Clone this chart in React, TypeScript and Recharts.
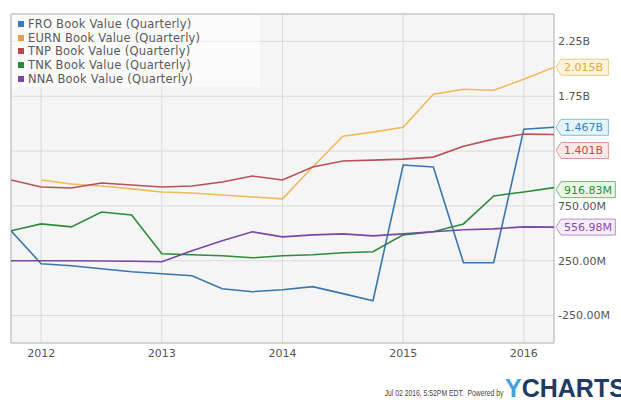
import { LineChart, Line, XAxis, YAxis, CartesianGrid, Legend, LabelList, ReferenceArea } from 'recharts';

const quarters = [2011.75, 2012, 2012.25, 2012.5, 2012.75, 2013, 2013.25, 2013.5, 2013.75, 2014, 2014.25, 2014.5, 2014.75, 2015, 2015.25, 2015.5, 2015.75, 2016, 2016.25];

// book value in billions
const fro = [0.523, 0.223, 0.205, 0.177, 0.15, 0.132, 0.114, -0.005, -0.032, -0.014, 0.014, -0.05, -0.114, 1.123, 1.105, 0.232, 0.232, 1.45, 1.467];
const eurn = [null, 0.986, 0.95, 0.932, 0.905, 0.877, 0.868, 0.85, 0.832, 0.814, 1.105, 1.386, 1.423, 1.468, 1.768, 1.814, 1.805, 1.905, 2.015];
const tnp = [0.986, 0.923, 0.914, 0.959, 0.941, 0.923, 0.932, 0.968, 1.023, 0.986, 1.105, 1.159, 1.168, 1.177, 1.195, 1.295, 1.359, 1.405, 1.401];
const tnk = [0.523, 0.586, 0.559, 0.695, 0.668, 0.314, 0.305, 0.295, 0.277, 0.295, 0.305, 0.323, 0.332, 0.486, 0.514, 0.586, 0.841, 0.877, 0.91683];
const nna = [0.25, 0.25, 0.25, 0.248, 0.245, 0.241, 0.341, 0.432, 0.514, 0.468, 0.486, 0.495, 0.477, 0.495, 0.514, 0.532, 0.541, 0.559, 0.55698];

const yearTicks = [2012, 2013, 2014, 2015, 2016];
const valueTicks = [-0.25, 0.25, 0.75, 1.25, 1.75, 2.25];
const hiddenTickLabels = [1.25];

const series = [
  { key: 'fro', name: 'FRO Book Value (Quarterly)', values: fro, color: '#3a76ad', swatch: '#3b78c4', tagFill: '#e6f3fb', tagText: '#2f86c0', tagBorder: '#7fbde0', shift: 0 },
  { key: 'eurn', name: 'EURN Book Value (Quarterly)', values: eurn, color: '#f0b960', swatch: '#e0a050', tagFill: '#fff3d9', tagText: '#e6a83a', tagBorder: '#f0c97f', shift: 0 },
  { key: 'tnp', name: 'TNP Book Value (Quarterly)', values: tnp, color: '#b8525a', swatch: '#c0444c', tagFill: '#fbe8e8', tagText: '#c34a4a', tagBorder: '#dc9a9a', shift: 16 },
  { key: 'tnk', name: 'TNK Book Value (Quarterly)', values: tnk, color: '#2f8a3c', swatch: '#2a8a35', tagFill: '#eaf7e8', tagText: '#2d8f38', tagBorder: '#6cbf6c', shift: 2 },
  { key: 'nna', name: 'NNA Book Value (Quarterly)', values: nna, color: '#7a48a2', swatch: '#7b4aa8', tagFill: '#f5ecf8', tagText: '#8a4cae', tagBorder: '#b98ed0', shift: 0 },
];

const data = quarters.map((q, i) => {
  const row: Record<string, number | null> = { q };
  series.forEach((s) => { row[s.key] = s.values[i]; });
  return row;
});

const font = '"DejaVu Sans", Verdana, sans-serif';

function fmtTick(v: number) {
  if (hiddenTickLabels.includes(v)) return '';
  if (Math.abs(v) >= 1) return `${v.toFixed(2)}B`;
  return `${(v * 1000).toFixed(2)}M`;
}

function fmtLast(v: number) {
  if (Math.abs(v) >= 1) return `${v.toFixed(3)}B`;
  return `${(v * 1000).toFixed(2)}M`;
}

function makeTag(s: typeof series[number]) {
  return (props: any) => {
    const { x, y, value, index } = props;
    if (index !== quarters.length - 1 || value == null) return null;
    const text = fmtLast(value);
    const cy = y + s.shift;
    const left = x + 7;
    const w = text.length * 6.9 + 6;
    const h = 16;
    const d = `M${x + 2},${cy} L${left},${cy - h / 2} L${left + w},${cy - h / 2} L${left + w},${cy + h / 2} L${left},${cy + h / 2} Z`;
    return (
      <g>
        <path d={d} fill={s.tagFill} stroke={s.tagBorder} strokeWidth={1} />
        <text x={left + 3} y={cy} dy="0.36em" fontSize={11} fontFamily={font} fill={s.tagText}>{text}</text>
      </g>
    );
  };
}

function LegendBox() {
  return (
    <div style={{ fontFamily: font, fontSize: 11.5, color: '#5a5a5a', background: 'rgba(255,255,255,0.55)', padding: '2px 60px 2px 6px' }}>
      {series.map((s) => (
        <div key={s.key} style={{ display: 'flex', alignItems: 'center', height: 13.7, whiteSpace: 'nowrap' }}>
          <span style={{ display: 'inline-block', width: 6, height: 6, background: s.swatch, marginRight: 4 }} />
          <span style={{ letterSpacing: 0.2 }}>{s.name}</span>
        </div>
      ))}
    </div>
  );
}

export default function App() {
  return (
    <div style={{ position: 'absolute', left: 0, top: 0, width: 621, height: 406, background: '#fff', overflow: 'hidden' }}>
      <LineChart width={621} height={406} data={data} margin={{ top: 14, right: 0, left: 11, bottom: 43 }}>
        <CartesianGrid fill="#f5f5f5" stroke="#dadada" />
        <XAxis
          dataKey="q"
          type="number"
          domain={[2011.75, 2016.25]}
          ticks={yearTicks}
          allowDataOverflow
          tickLine={false}
          axisLine={false}
          tickSize={0}
          tickMargin={6}
          height={20}
          tick={{ fontSize: 11, fontFamily: font, fill: '#555' }}
        />
        <YAxis
          orientation="right"
          type="number"
          domain={[-0.5, 2.5]}
          ticks={valueTicks}
          tickFormatter={fmtTick}
          tickLine={false}
          axisLine={false}
          tickSize={0}
          tickMargin={4}
          width={67}
          tick={{ fontSize: 11, fontFamily: font, fill: '#555' }}
        />
        <ReferenceArea x1={2011.75} x2={2016.25} y1={-0.5} y2={2.5} fill="none" stroke="#bdbdbd" strokeWidth={1} />
        <Legend
          layout="vertical"
          verticalAlign="middle"
          align="center"
          wrapperStyle={{ top: 15, left: 12, width: 'auto', height: 'auto' }}
          content={() => <LegendBox />}
        />
        {series.map((s) => (
          <Line
            key={s.key}
            dataKey={s.key}
            name={s.name}
            type="linear"
            stroke={s.color}
            strokeWidth={1.6}
            dot={false}
            isAnimationActive={false}
            connectNulls={false}
          >
            <LabelList dataKey={s.key} content={makeTag(s)} />
          </Line>
        ))}
      </LineChart>
      <div style={{ position: 'absolute', right: 118, top: 388, fontFamily: '"Liberation Sans", Arial, sans-serif', fontSize: 8.5, color: '#444', whiteSpace: 'nowrap', transform: 'scaleX(0.8)', transformOrigin: 'right center' }}>
        Jul 02 2016, 5:52PM EDT.&nbsp; Powered by
      </div>
      <div style={{ position: 'absolute', left: 505, top: 376, fontFamily: '"Liberation Sans", Arial, sans-serif', fontWeight: 700, fontSize: 25, whiteSpace: 'nowrap', lineHeight: 1 }}>
        <span style={{ color: '#3fa3dc' }}>Y</span>
        <span style={{ color: '#1f3b63' }}>CHARTS</span>
      </div>
    </div>
  );
}
